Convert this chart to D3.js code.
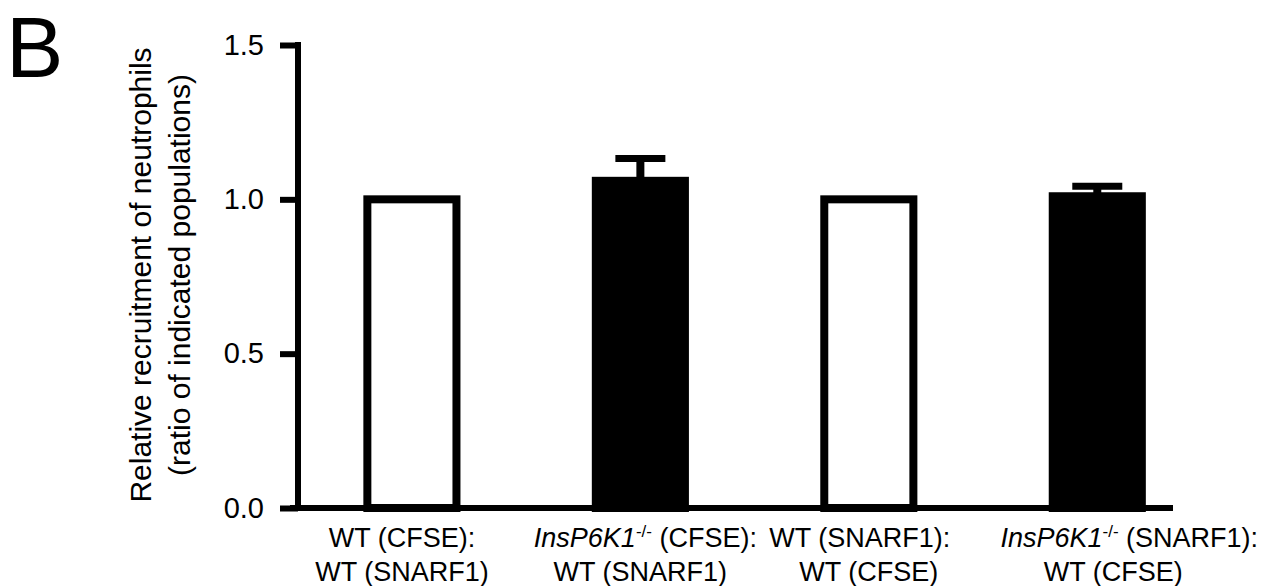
<!DOCTYPE html>
<html>
<head>
<meta charset="utf-8">
<script src="https://cdn.jsdelivr.net/npm/d3@7"></script>
<style>
    html, body { margin: 0; padding: 0; background: #fff; }
    svg { display: block; }
    text { font-family: "Liberation Sans", Arial, sans-serif; fill: #000; }
</style>
</head>
<body>
<div id="chart"></div>
<script>
// Data
const groups = ["wt_cfse", "ko_cfse", "wt_snarf", "ko_snarf"];
const means = [1.0, 1.06, 1.0, 1.01];
const errors = [0, 0.072, 0, 0.032];
const filled = [false, true, false, true];
// label lines: italic gene prefix (or null), rest of line 1, line 2
const labelGene = [null, "InsP6K1", null, "InsP6K1"];
const labelLine1 = ["WT (CFSE):", " (CFSE):", "WT (SNARF1):", " (SNARF1):"];
const labelLine2 = ["WT (SNARF1)", "WT (SNARF1)", "WT (CFSE)", "WT (CFSE)"];
const yTicks = [0, 0.5, 1.0, 1.5];
const yTitle = ["Relative recruitment of neutrophils", "(ratio of indicated populations)"];

const W = 1266, H = 586;
const axisX = 298, axisY = 508, topY = 45, rightX = 1173;
// small horizontal nudges of the category labels, as in the figure
const line1Shift = [-10, 5, -9, 32];
const line2Shift = [-10, 0, 0, 16];

const svg = d3.select("#chart").append("svg")
    .attr("width", W)
    .attr("height", H);

const x = d3.scaleBand()
    .domain(groups)
    .range([axisX, rightX])
    .paddingInner(0.61)
    .paddingOuter(0.22)
    .align(0.69);

const y = d3.scaleLinear()
    .domain([0, 1.5])
    .range([axisY, topY]);

// Bars
svg.append("g").selectAll("rect")
    .data(groups)
    .join("rect")
    .attr("x", d => x(d))
    .attr("width", x.bandwidth())
    .attr("y", (d, i) => y(means[i]))
    .attr("height", (d, i) => axisY - y(means[i]))
    .attr("fill", (d, i) => filled[i] ? "#000" : "#fff")
    .attr("stroke", "#000")
    .attr("stroke-width", 8);

// Error bars (upper only)
const eb = svg.append("g");
groups.forEach((g, i) => {
    if (!errors[i]) return;
    const cx = x(g) + x.bandwidth() / 2;
    const top = y(means[i] + errors[i]);
    eb.append("line")
        .attr("x1", cx).attr("x2", cx)
        .attr("y1", y(means[i])).attr("y2", top)
        .attr("stroke", "#000").attr("stroke-width", 8);
    eb.append("line")
        .attr("x1", cx - 25).attr("x2", cx + 25)
        .attr("y1", top).attr("y2", top)
        .attr("stroke", "#000").attr("stroke-width", 7);
});

// Y axis
const yAxis = svg.append("g")
    .attr("transform", `translate(${axisX},0)`)
    .call(d3.axisLeft(y).tickValues(yTicks).tickFormat(d3.format(".1f")).tickSize(18).tickPadding(16));
yAxis.select(".domain").remove();
yAxis.selectAll(".tick line").attr("stroke", "#000").attr("stroke-width", 6);
yAxis.selectAll(".tick text").attr("font-size", 29).attr("font-family", "Liberation Sans, Arial, sans-serif");
yAxis.append("line")
    .attr("x1", 0).attr("x2", 0)
    .attr("y1", topY - 3).attr("y2", axisY)
    .attr("stroke", "#000").attr("stroke-width", 6);

// X axis baseline
svg.append("line")
    .attr("x1", axisX - 8).attr("x2", rightX)
    .attr("y1", axisY).attr("y2", axisY)
    .attr("stroke", "#000").attr("stroke-width", 6);

// Category labels
const lab = svg.append("g").attr("font-size", 27);
groups.forEach((g, i) => {
    const cx = x(g) + x.bandwidth() / 2;
    const t1 = lab.append("text")
        .attr("x", cx + line1Shift[i]).attr("y", 547)
        .attr("text-anchor", "middle");
    if (labelGene[i]) {
        t1.append("tspan").attr("font-style", "italic").text(labelGene[i]);
        t1.append("tspan").attr("font-size", 17).attr("dy", -10).text("-/-");
        t1.append("tspan").attr("dy", 10).text(labelLine1[i]);
    } else {
        t1.text(labelLine1[i]);
    }
    lab.append("text")
        .attr("x", cx + line2Shift[i]).attr("y", 581)
        .attr("text-anchor", "middle")
        .text(labelLine2[i]);
});

// Y title
const ty = svg.append("g")
    .attr("font-size", 30)
    .attr("transform", "rotate(-90)");
yTitle.forEach((s, i) => {
    ty.append("text")
        .attr("x", -275)
        .attr("y", 151 + i * 39)
        .attr("text-anchor", "middle")
        .text(s);
});

// Panel letter
svg.append("text")
    .attr("x", 6).attr("y", 77)
    .attr("font-size", 86)
    .text("B");
</script>
</body>
</html>
